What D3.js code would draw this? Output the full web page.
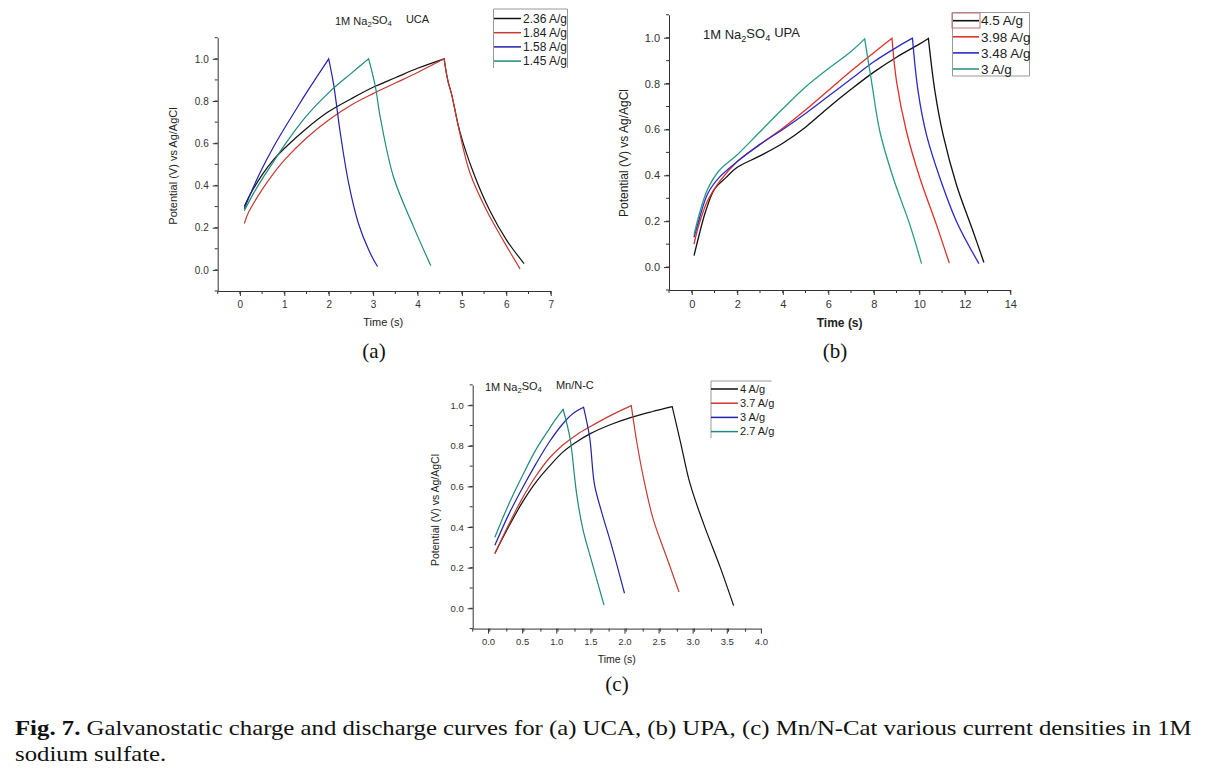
<!DOCTYPE html>
<html>
<head>
<meta charset="utf-8">
<script src="https://cdn.jsdelivr.net/npm/d3@7"></script>
<style>
  html, body { margin: 0; padding: 0; background: #fff; }
  svg { display: block; }
</style>
</head>
<body>
<svg id="fig" width="1210" height="775"></svg>
<script>
// ---------------- DATA ----------------
// Panel (a) UCA
const seriesA = ["2.36 A/g", "1.84 A/g", "1.58 A/g", "1.45 A/g"];
const colorsA = ["#111111", "#c83a30", "#2222aa", "#1f8a7c"];
const a236_charge = [[0.1,0.30],[0.2,0.345],[0.5,0.45],[0.75,0.52],[1.0,0.575],[1.5,0.67],[2.0,0.75],[2.5,0.81],[3.0,0.865],[3.5,0.91],[4.0,0.955],[4.6,1.0]];
const a236_dis    = [[4.6,1.0],[4.68,0.9],[4.77,0.83],[4.96,0.65],[5.26,0.46],[5.63,0.28],[6.01,0.14],[6.4,0.03]];
const a184_charge = [[0.1,0.22],[0.2,0.275],[0.5,0.38],[0.75,0.455],[1.0,0.52],[1.5,0.625],[2.0,0.71],[2.5,0.78],[3.0,0.835],[3.5,0.885],[4.0,0.935],[4.6,1.0]];
const a184_dis    = [[4.6,1.0],[4.68,0.9],[4.77,0.83],[4.95,0.65],[5.18,0.46],[5.56,0.28],[5.93,0.14],[6.31,0.005]];
const a158_charge = [[0.1,0.29],[0.3,0.39],[0.5,0.48],[0.75,0.58],[1.0,0.67],[1.25,0.755],[1.5,0.84],[1.75,0.92],[2.0,1.0]];
const a158_dis    = [[2.0,1.0],[2.11,0.88],[2.26,0.65],[2.45,0.41],[2.67,0.22],[2.9,0.095],[3.1,0.016]];
const a145_charge = [[0.1,0.28],[0.3,0.36],[0.5,0.43],[0.75,0.51],[1.0,0.59],[1.5,0.73],[2.0,0.84],[2.5,0.93],[2.9,1.0]];
const a145_dis    = [[2.9,1.0],[3.05,0.87],[3.16,0.725],[3.46,0.44],[3.91,0.205],[4.3,0.02]];

// Panel (b) UPA
const seriesB = ["4.5 A/g", "3.98 A/g", "3.48 A/g", "3 A/g"];
const colorsB = ["#111111", "#e0302a", "#2a2ac8", "#2a9a88"];
const b45_charge  = [[0.1,0.05],[0.3,0.13],[0.6,0.24],[1.0,0.34],[1.5,0.39],[2.0,0.435],[3.0,0.485],[4.0,0.54],[5.0,0.61],[6.0,0.695],[7.0,0.775],[8.0,0.85],[9.0,0.915],[10.0,0.972],[10.4,0.997]];
const b45_dis     = [[10.4,0.997],[10.69,0.765],[11.05,0.575],[11.64,0.357],[12.37,0.154],[12.84,0.02]];
const b398_charge = [[0.1,0.10],[0.3,0.18],[0.7,0.29],[1.2,0.37],[2.0,0.46],[3.0,0.535],[4.0,0.605],[5.0,0.685],[6.0,0.77],[7.0,0.855],[8.0,0.935],[8.8,0.998]];
const b398_dis    = [[8.8,0.998],[9.0,0.81],[9.44,0.59],[10.03,0.387],[10.76,0.183],[11.32,0.017]];
const b348_charge = [[0.1,0.13],[0.3,0.2],[0.7,0.32],[1.2,0.39],[2.0,0.46],[3.0,0.535],[4.0,0.6],[5.0,0.67],[6.0,0.745],[7.0,0.82],[8.0,0.895],[9.0,0.958],[9.7,0.998]];
const b348_dis    = [[9.7,0.998],[9.95,0.765],[10.32,0.575],[10.91,0.387],[11.64,0.198],[12.62,0.015]];
const b3_charge   = [[0.1,0.14],[0.3,0.22],[0.7,0.34],[1.2,0.42],[2.0,0.49],[3.0,0.59],[4.0,0.69],[5.0,0.785],[6.0,0.865],[7.0,0.94],[7.6,0.995]];
const b3_dis      = [[7.6,0.995],[7.9,0.81],[8.27,0.59],[8.86,0.387],[9.59,0.183],[10.1,0.015]];

// Panel (c) Mn/N-C
const seriesC = ["4 A/g", "3.7 A/g", "3 A/g", "2.7 A/g"];
const colorsC = ["#111111", "#c83a30", "#2222aa", "#1f8a7c"];
const c4_charge   = [[0.1,0.27],[0.3,0.40],[0.5,0.52],[0.7,0.62],[0.9,0.70],[1.1,0.77],[1.3,0.82],[1.5,0.86],[1.8,0.905],[2.1,0.94],[2.4,0.968],[2.7,0.993]];
const c4_dis      = [[2.7,0.993],[2.82,0.82],[2.94,0.64],[3.04,0.53],[3.2,0.38],[3.4,0.205],[3.6,0.013]];
const c37_charge  = [[0.1,0.27],[0.3,0.41],[0.5,0.54],[0.7,0.65],[0.9,0.74],[1.1,0.805],[1.3,0.855],[1.5,0.895],[1.8,0.95],[2.1,0.998]];
const c37_dis     = [[2.1,0.998],[2.18,0.82],[2.28,0.64],[2.42,0.44],[2.62,0.25],[2.8,0.08]];
const c3_charge   = [[0.1,0.31],[0.3,0.46],[0.5,0.59],[0.7,0.71],[0.9,0.82],[1.1,0.91],[1.25,0.96],[1.4,0.99]];
const c3_dis      = [[1.4,0.99],[1.49,0.84],[1.56,0.61],[1.66,0.48],[1.81,0.31],[2.0,0.074]];
const c27_charge  = [[0.1,0.35],[0.3,0.51],[0.5,0.65],[0.7,0.78],[0.9,0.885],[1.0,0.935],[1.1,0.98]];
const c27_dis     = [[1.1,0.98],[1.2,0.84],[1.3,0.56],[1.39,0.39],[1.52,0.23],[1.7,0.016]];

// Tick values
const yTickValues = [0.0, 0.2, 0.4, 0.6, 0.8, 1.0];
const xTicksA = [0, 1, 2, 3, 4, 5, 6, 7];
const xTicksB = [0, 2, 4, 6, 8, 10, 12, 14];
const xTicksC = [0.0, 0.5, 1.0, 1.5, 2.0, 2.5, 3.0, 3.5, 4.0];

const captionLine1 = "Galvanostatic charge and discharge curves for (a) UCA, (b) UPA, (c) Mn/N-Cat various current densities in 1M";
const captionLine2 = "sodium sulfate.";

// ---------------- DRAWING ----------------
const svg = d3.select("#fig");
const sans = "Arial, 'Liberation Sans', sans-serif";
const serif = "'Times New Roman', 'Liberation Serif', serif";

function drawPanel(p) {
  const x = d3.scaleLinear().domain(p.xDomain).range(p.xRange);
  const y = d3.scaleLinear().domain([-0.1, 1.1]).range(p.yRange);
  const g = svg.append("g");

  const xMinor = d3.range(p.xDomain[0], p.xDomain[1] + 1e-9, p.xMinorStep);
  const yMinor = d3.range(-0.1, 1.1 + 1e-9, 0.1);

  const xAxis = d3.axisBottom(x).tickValues(p.xTicks).tickFormat(p.xFormat).tickSize(5).tickSizeOuter(0);
  const yAxis = d3.axisLeft(y).tickValues(yTickValues).tickFormat(d3.format(".1f")).tickSize(5).tickSizeOuter(0);

  const gx = g.append("g").attr("transform", `translate(0,${p.yRange[0]})`).call(xAxis);
  const gy = g.append("g").attr("transform", `translate(${p.xRange[0]},0)`).call(yAxis);
  [gx, gy].forEach(ax => {
    ax.select(".domain").attr("stroke", "#333").attr("stroke-width", 1);
    ax.selectAll(".tick line").attr("stroke", "#333");
    ax.selectAll(".tick text").attr("fill", "#333").style("font-family", sans).style("font-size", p.tickFont + "px");
  });
  gx.selectAll(".tick text").attr("dy", "0.9em");
  gy.selectAll(".tick text").attr("dx", "-1px");

  g.append("g").selectAll("line").data(xMinor).join("line")
    .attr("x1", d => x(d)).attr("x2", d => x(d))
    .attr("y1", p.yRange[0]).attr("y2", p.yRange[0] + 3)
    .attr("stroke", "#333");
  g.append("g").selectAll("line").data(yMinor).join("line")
    .attr("y1", d => y(d)).attr("y2", d => y(d))
    .attr("x1", p.xRange[0]).attr("x2", p.xRange[0] - 3)
    .attr("stroke", "#333");

  // curves (charge and discharge branch joined into one path)
  const line = d3.line().x(d => x(d[0])).y(d => y(d[1])).curve(d3.curveCatmullRom.alpha(0.5));
  p.curves.forEach((c, i) => {
    const d = line(c[0]) + line(c[1]).replace(/^M/, "L");
    g.append("path").attr("d", d).attr("fill", "none")
      .attr("stroke", p.colors[i]).attr("stroke-width", p.lineWidth).attr("stroke-linejoin", "miter");
  });

  // axis labels
  g.append("text").attr("x", (p.xRange[0] + p.xRange[1]) / 2 + p.xLabelDx).attr("y", p.xLabelY)
    .attr("text-anchor", "middle").style("font-family", sans).style("font-size", p.labelFont + "px")
    .style("font-weight", p.xLabelBold ? "bold" : "normal").attr("fill", "#222").text("Time (s)");
  g.append("text").attr("transform", `translate(${p.yLabelX},${p.yLabelY}) rotate(-90)`)
    .attr("text-anchor", "middle").style("font-family", sans).style("font-size", p.labelFont + "px")
    .attr("fill", "#222").text("Potential (V) vs Ag/AgCl");

  // title
  const t = g.append("text").attr("x", p.titleX).attr("y", p.titleY)
    .style("font-family", sans).style("font-size", p.titleFont + "px").attr("fill", "#222");
  t.append("tspan").text("1M Na");
  t.append("tspan").attr("dy", "0.3em").style("font-size", (p.titleFont * 0.7) + "px").text("2");
  t.append("tspan").attr("dy", "-0.3em").text("SO");
  t.append("tspan").attr("dy", "0.3em").style("font-size", (p.titleFont * 0.7) + "px").text("4");
  t.append("tspan").attr("dy", "-0.3em").attr("dx", p.titleGap).text(p.titleSuffix);

  // legend
  const L = p.legend;
  if (L.box) {
    L.box.forEach(s => g.append("line").attr("x1", s[0]).attr("y1", s[1]).attr("x2", s[2]).attr("y2", s[3])
      .attr("stroke", "#999").attr("stroke-width", 1));
  }
  p.series.forEach((name, i) => {
    const yy = L.y0 + i * L.dy;
    g.append("line").attr("x1", L.x0).attr("x2", L.x1).attr("y1", yy).attr("y2", yy)
      .attr("stroke", p.colors[i]).attr("stroke-width", p.lineWidth + 0.3);
    g.append("text").attr("x", L.x1 + 2).attr("y", yy).attr("dy", "0.35em")
      .style("font-family", sans).style("font-size", L.font + "px").attr("fill", "#222").text(name);
  });
  if (L.redRect) {
    g.append("rect").attr("x", L.redRect[0]).attr("y", L.redRect[1]).attr("width", L.redRect[2]).attr("height", L.redRect[3])
      .attr("fill", "none").attr("stroke", "#c87070").attr("stroke-width", 1);
  }

  // panel label
  svg.append("text").attr("x", p.panelLabel[1]).attr("y", p.panelLabel[2]).attr("text-anchor", "middle")
    .style("font-family", serif).style("font-size", "21px").attr("fill", "#111").text(p.panelLabel[0]);
}

drawPanel({
  xDomain: [-0.5, 7], xRange: [217.7, 550.7], yRange: [291, 37.7],
  xTicks: xTicksA, xFormat: d3.format("d"), xMinorStep: 0.5,
  tickFont: 10, labelFont: 11, xLabelBold: false, xLabelDx: -1, xLabelY: 326,
  yLabelX: 177, yLabelY: 166,
  series: seriesA, colors: colorsA, lineWidth: 1.2,
  curves: [[a236_charge, a236_dis], [a184_charge, a184_dis], [a158_charge, a158_dis], [a145_charge, a145_dis]],
  titleX: 335, titleY: 25, titleFont: 11, titleGap: 14, titleSuffix: "UCA",
  legend: { x0: 494, x1: 521, y0: 18.5, dy: 14.2, font: 12,
    box: [[493.5, 9, 493.5, 68], [567.5, 9, 567.5, 68], [493.5, 9, 567.5, 9]] },
  panelLabel: ["(a)", 374, 358]
});

drawPanel({
  xDomain: [-1, 14], xRange: [669, 1010.3], yRange: [290, 14.8],
  xTicks: xTicksB, xFormat: d3.format("d"), xMinorStep: 1,
  tickFont: 11, labelFont: 12, xLabelBold: true, xLabelDx: 0, xLabelY: 327,
  yLabelX: 628, yLabelY: 153,
  series: seriesB, colors: colorsB, lineWidth: 1.3,
  curves: [[b45_charge, b45_dis], [b398_charge, b398_dis], [b348_charge, b348_dis], [b3_charge, b3_dis]],
  titleX: 703, titleY: 39, titleFont: 13, titleGap: 4, titleSuffix: "UPA",
  legend: { x0: 953, x1: 979, y0: 20.7, dy: 16.1, font: 13.5,
    box: [[952.5, 12.5, 952.5, 76], [1029.5, 12.5, 1029.5, 76], [952.5, 12.5, 1029.5, 12.5], [952.5, 76, 1029.5, 76]],
    redRect: [952, 13, 28, 15] },
  panelLabel: ["(b)", 835, 358]
});

drawPanel({
  xDomain: [-0.225, 4], xRange: [472.7, 760.9], yRange: [628.6, 384.9],
  xTicks: xTicksC, xFormat: d3.format(".1f"), xMinorStep: 0.25,
  tickFont: 9.5, labelFont: 10.5, xLabelBold: false, xLabelDx: 0, xLabelY: 663,
  yLabelX: 439, yLabelY: 510,
  series: seriesC, colors: colorsC, lineWidth: 1.2,
  curves: [[c4_charge, c4_dis], [c37_charge, c37_dis], [c3_charge, c3_dis], [c27_charge, c27_dis]],
  titleX: 485, titleY: 391, titleFont: 11, titleGap: 14, titleSuffix: "Mn/N-C",
  legend: { x0: 711, x1: 738, y0: 389, dy: 14.2, font: 11,
    box: [[711, 381, 711, 438], [711, 381, 771.5, 381]] },
  panelLabel: ["(c)", 617, 691]
});

// caption (condensed Times look: scale horizontally to span the full justified width)
const capFont = "21px";
const cap = svg.append("text").attr("x", 0).attr("y", 0)
  .style("font-family", serif).style("font-size", capFont).attr("fill", "#111");
cap.append("tspan").style("font-weight", "bold").text("Fig. 7.");
cap.append("tspan").text(" " + captionLine1);
const capW = cap.node().getComputedTextLength() || 1177;
const sx = (1192 - 15) / capW;
cap.attr("transform", `translate(15,735) scale(${sx},1)`);
svg.append("text").attr("x", 0).attr("y", 0).attr("transform", `translate(15,761) scale(${sx},1)`)
  .style("font-family", serif).style("font-size", capFont).attr("fill", "#111").text(captionLine2);
</script>
</body>
</html>
